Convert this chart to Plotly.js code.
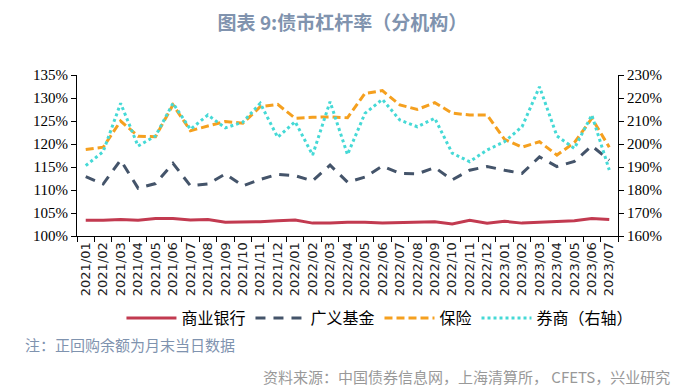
<!DOCTYPE html>
<html>
<head>
<meta charset="utf-8">
<script src="https://cdn.plot.ly/plotly-3.0.1.min.js"></script>
<style>html,body{margin:0;padding:0;background:#fff;}#chart{width:696px;height:391px;}</style>
</head>
<body>
<div id="chart"></div>
<script>
const months = ["2021/01","2021/02","2021/03","2021/04","2021/05","2021/06","2021/07","2021/08","2021/09","2021/10","2021/11","2021/12",
"2022/01","2022/02","2022/03","2022/04","2022/05","2022/06","2022/07","2022/08","2022/09","2022/10","2022/11","2022/12",
"2023/01","2023/02","2023/03","2023/04","2023/05","2023/06","2023/07"];
const commercialBank = [103.4,103.4,103.6,103.4,103.8,103.8,103.5,103.6,103.0,103.0,103.1,103.3,103.5,102.8,102.8,103.0,
103.0,102.8,102.9,103.0,103.1,102.6,103.4,102.8,103.2,102.8,103.0,103.1,103.3,103.8,103.6];
const broadFund = [112.9,111.3,116.5,110.4,111.4,115.8,110.9,111.3,113.5,110.9,112.3,113.4,113.1,112.0,115.4,111.7,
112.8,115.2,113.6,113.5,114.9,112.2,114.3,115.1,114.3,113.6,117.2,115.1,116.2,119.6,116.5];
const insurance = [118.8,119.3,125.0,121.7,121.6,128.5,122.9,123.9,124.9,124.5,128.1,128.6,125.6,125.8,125.9,125.7,
131.0,131.6,128.5,127.5,129.0,126.7,126.3,126.3,121.0,119.3,120.5,117.6,120.3,125.6,119.3];
const brokers = [190.6,196.7,217.7,199.1,203.5,217.7,206.4,212.6,207.0,209.5,217.7,202.9,209.7,195.2,218.4,195.4,
213.3,219.4,210.4,207.5,211.2,196.0,192.3,197.4,201.0,207.5,224.9,203.5,198.1,212.6,188.7];
const leftTicks = [100,105,110,115,120,125,130,135];
const rightTicks = [160,170,180,190,200,210,220,230];
const seriesNames = ["商业银行","广义基金","保险","券商（右轴）"];

const traces = [
  {x: months, y: commercialBank, name: seriesNames[0], type: "scatter", mode: "lines",
   line: {color: "#C23A50", width: 3}},
  {x: months, y: broadFund, name: seriesNames[1], type: "scatter", mode: "lines",
   line: {color: "#44546A", width: 3, dash: "10px,8px"}},
  {x: months, y: insurance, name: seriesNames[2], type: "scatter", mode: "lines",
   line: {color: "#F5A01F", width: 3, dash: "8px,4px"}},
  {x: months, y: brokers, name: seriesNames[3], type: "scatter", mode: "lines", yaxis: "y2",
   line: {color: "#45D9D6", width: 3, dash: "dot"}}
];

const layout = {
  width: 696, height: 391,
  margin: {l: 77, r: 78, t: 75, b: 155},
  paper_bgcolor: "#fff", plot_bgcolor: "#fff",
  showlegend: true,
  title: {text: "<b>图表 9:债市杠杆率（分机构）</b>", x: 0.492, xref: "container", y: 0.94, yref: "container",
          xanchor: "center", yanchor: "middle",
          font: {family: "Noto Sans CJK SC", size: 19, color: "#8093AE"}},
  xaxis: {type: "category", tickson: "boundaries", ticks: "outside", ticklen: 5, tickcolor: "#000",
          showline: true, linecolor: "#000", linewidth: 1, showgrid: false, zeroline: false,
          tickangle: -90, tickfont: {family: "DejaVu Sans", size: 13, color: "#222"},
          range: [-0.5, 30.5]},
  yaxis: {range: [100, 135], tickvals: leftTicks, ticktext: leftTicks.map(v => v + "%"),
          ticks: "outside", ticklen: 5, tickcolor: "#000", showline: true, linecolor: "#000", linewidth: 1,
          showgrid: false, zeroline: false, tickfont: {family: "Liberation Serif", size: 15, color: "#000"}},
  yaxis2: {range: [160, 230], tickvals: rightTicks, ticktext: rightTicks.map(v => v + "%"),
           overlaying: "y", side: "right", ticks: "outside", ticklen: 5, tickcolor: "#000",
           showline: true, linecolor: "#000", linewidth: 1, showgrid: false, zeroline: false,
           tickfont: {family: "Liberation Serif", size: 15, color: "#000"}},
  legend: {orientation: "h", x: 0.56, xanchor: "center", y: -0.51, yanchor: "middle",
           font: {family: "Noto Sans CJK SC", size: 16, color: "#000"}, itemwidth: 50, tracegroupgap: 0},
  annotations: [
    {text: "注：正回购余额为月末当日数据", xref: "paper", yref: "paper", x: -0.1, y: -0.677,
     xanchor: "left", yanchor: "middle", showarrow: false,
     font: {family: "Noto Sans CJK SC", size: 15, color: "#7F93AF"}},
    {text: "资料来源：中国债券信息网，上海清算所， CFETS，兴业研究", xref: "paper", yref: "paper", x: 1.1, y: -0.87,
     xanchor: "right", yanchor: "middle", showarrow: false,
     font: {family: "Noto Sans CJK SC", size: 15, color: "#999"}}
  ]
};

Plotly.newPlot("chart", traces, layout, {displayModeBar: false, staticPlot: true});
</script>
</body>
</html>
